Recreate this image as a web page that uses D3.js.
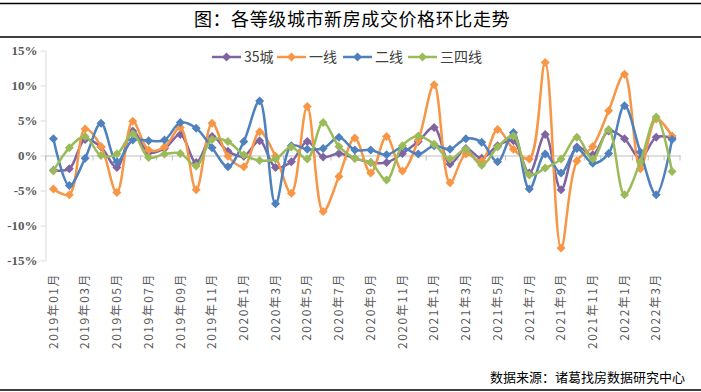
<!DOCTYPE html>
<html><head><meta charset="utf-8">
<script src="https://cdn.jsdelivr.net/npm/d3@7/dist/d3.min.js"></script>
<style>
html,body{margin:0;padding:0;background:#fff;}
svg{display:block;}
</style></head>
<body><svg id="c" width="701" height="392"></svg>
<script>
const categories = ["2019年01月","2019年02月","2019年03月","2019年04月","2019年05月","2019年06月","2019年07月","2019年08月","2019年09月","2019年10月","2019年11月","2019年12月",
"2020年1月","2020年2月","2020年3月","2020年4月","2020年5月","2020年6月","2020年7月","2020年8月","2020年9月","2020年10月","2020年11月","2020年12月",
"2021年1月","2021年2月","2021年3月","2021年4月","2021年5月","2021年6月","2021年7月","2021年8月","2021年9月","2021年10月","2021年11月","2021年12月",
"2022年1月","2022年2月","2022年3月","2022年4月"];
const tickLabels = ["2019年01月","2019年03月","2019年05月","2019年07月","2019年09月","2019年11月","2020年1月","2020年3月","2020年5月","2020年7月","2020年9月","2020年11月","2021年1月","2021年3月","2021年5月","2021年7月","2021年9月","2021年11月","2022年1月","2022年3月"];
const yTicks = [-15,-10,-5,0,5,10,15];
const seriesNames = ["35城","一线","二线","三四线"];
const s35 = [-2.1,-1.9,2.3,1.2,-1.7,3.5,0.4,1.0,3.0,-1.0,2.7,0.6,-0.1,2.1,-1.7,-0.9,2.0,-0.2,0.3,-0.4,-1.0,-1.0,0.3,2.0,4.0,-1.2,1.0,-0.4,1.4,2.1,-2.5,3.0,-4.9,1.2,0.1,3.5,2.4,-0.4,2.6,2.5];
const sTier1 = [-4.8,-5.6,3.8,1.3,-5.3,4.9,0.8,1.2,4.0,-4.9,4.6,-0.1,-1.6,3.4,-0.1,-5.4,7.0,-8.0,-3.0,2.5,-2.5,2.7,-2.2,2.2,10.1,-3.9,0.2,-0.8,3.7,0.9,-0.5,13.3,-13.2,-0.8,1.3,6.4,11.6,-1.9,5.2,2.8];
const sTier2 = [2.4,-4.3,-0.4,4.6,-0.9,2.2,2.1,2.2,4.7,3.9,1.1,-1.6,2.0,7.8,-6.9,1.4,0.9,1.0,2.6,0.8,0.8,0.1,1.1,0.2,1.4,0.9,2.4,1.9,-0.9,3.3,-4.8,0.2,-2.5,1.0,-1.1,0.3,7.1,0.5,-5.6,2.3];
const sTier34 = [-2.2,1.1,2.7,0.0,0.2,3.1,-0.3,0.2,0.3,-1.5,2.3,2.0,0.1,-0.7,-0.5,1.2,-0.5,4.7,1.3,-0.4,-1.0,-3.5,1.4,2.8,1.6,-0.5,0.9,-1.4,1.2,2.8,-2.8,-1.8,-0.5,2.6,-0.5,3.7,-5.6,-0.9,5.5,-2.3];
const seriesValues = [s35, sTier1, sTier2, sTier34];
const colors = ["#8064A2","#F79646","#4F81BD","#9BBB59"];

const svg = d3.select("#c");
const CJK = "'Noto Sans CJK SC','Noto Sans',sans-serif";

// frame lines
svg.append("line").attr("x1",0).attr("x2",701).attr("y1",3.5).attr("y2",3.5).attr("stroke","#000").attr("stroke-width",1.5);
svg.append("line").attr("x1",0).attr("x2",701).attr("y1",37).attr("y2",37).attr("stroke","#000").attr("stroke-width",1.5);
svg.append("line").attr("x1",0).attr("x2",701).attr("y1",390).attr("y2",390).attr("stroke","#000").attr("stroke-width",1.5);

svg.append("text").attr("x",352).attr("y",20).attr("dy","0.35em").attr("text-anchor","middle")
  .style("font-family",CJK).style("font-size","18px").style("letter-spacing","0.6px").attr("fill","#000")
  .text("图：各等级城市新房成交价格环比走势");

const x = d3.scaleBand().domain(categories).range([45.5,680]);
const y = d3.scaleLinear().domain([-15,15]).range([260.5,50.5]);
const cx = d => x(d) + x.bandwidth()/2;

// y axis
const ya = svg.append("g").attr("transform","translate(45.5,0)")
  .call(d3.axisLeft(y).tickValues(yTicks).tickFormat(d=>d+"%").tickSize(5).tickSizeOuter(0));
ya.select(".domain").attr("stroke","#d9d9d9");
ya.selectAll(".tick line").attr("stroke","#d9d9d9");
ya.selectAll(".tick text").attr("fill","#595959").attr("x",-8)
  .style("font-family","'Liberation Serif',serif").style("font-size","13px").style("font-weight","bold");

// x axis line at 0 with boundary ticks
const xa = svg.append("g").attr("transform",`translate(0,${y(0)})`)
  .call(d3.axisBottom(x).tickValues([]).tickSizeOuter(0));
xa.select(".domain").attr("stroke","#bfbfbf");
const bounds = categories.map(c=>x(c)).concat([x.range()[1]]);
svg.append("g").selectAll("line").data(bounds).join("line")
  .attr("x1",d=>d).attr("x2",d=>d).attr("y1",y(0)).attr("y2",y(0)+5).attr("stroke","#bfbfbf");

// x labels
svg.append("g").selectAll("text").data(tickLabels).join("text")
  .attr("transform",d=>`translate(${cx(categories[categories.indexOf(d)])},273) rotate(-90)`)
  .attr("dy","0.35em").attr("text-anchor","end")
  .style("font-family",CJK).style("font-size","12px").style("letter-spacing","1.5px")
  .attr("fill","#595959").text(d=>d);

// series
const line = d3.line().x((d,i)=>cx(categories[i])).y(d=>y(d)).curve(d3.curveCatmullRom.alpha(0.5));
const diamond = r => `M0,${-r}L${r},0L0,${r}L${-r},0Z`;
seriesValues.forEach((vals,si)=>{
  const g = svg.append("g");
  g.append("path").datum(vals).attr("d",line).attr("fill","none").attr("stroke",colors[si])
    .attr("stroke-width",2.5).attr("stroke-linejoin","round");
  g.selectAll("path.m").data(vals).join("path").attr("class","m")
    .attr("transform",(d,i)=>`translate(${cx(categories[i])},${y(d)})`)
    .attr("d",diamond(4.5)).attr("fill",colors[si]);
});

// legend
const legX = [212,277,343,408];
const lg = svg.append("g");
seriesNames.forEach((n,i)=>{
  const g = lg.append("g").attr("transform",`translate(${legX[i]},57)`);
  g.append("line").attr("x1",0).attr("x2",29).attr("stroke",colors[i]).attr("stroke-width",2.5);
  g.append("path").attr("transform","translate(14.5,0)").attr("d",diamond(4.5)).attr("fill",colors[i]);
  g.append("text").attr("x",32).attr("dy","0.35em").style("font-family",CJK).style("font-size","14px")
    .attr("fill","#404040").text(n);
});

// source
svg.append("text").attr("x",685).attr("y",377).attr("dy","0.35em").attr("text-anchor","end")
  .style("font-family",CJK).style("font-size","13px").attr("fill","#000")
  .text("数据来源：诸葛找房数据研究中心");
</script></body></html>
